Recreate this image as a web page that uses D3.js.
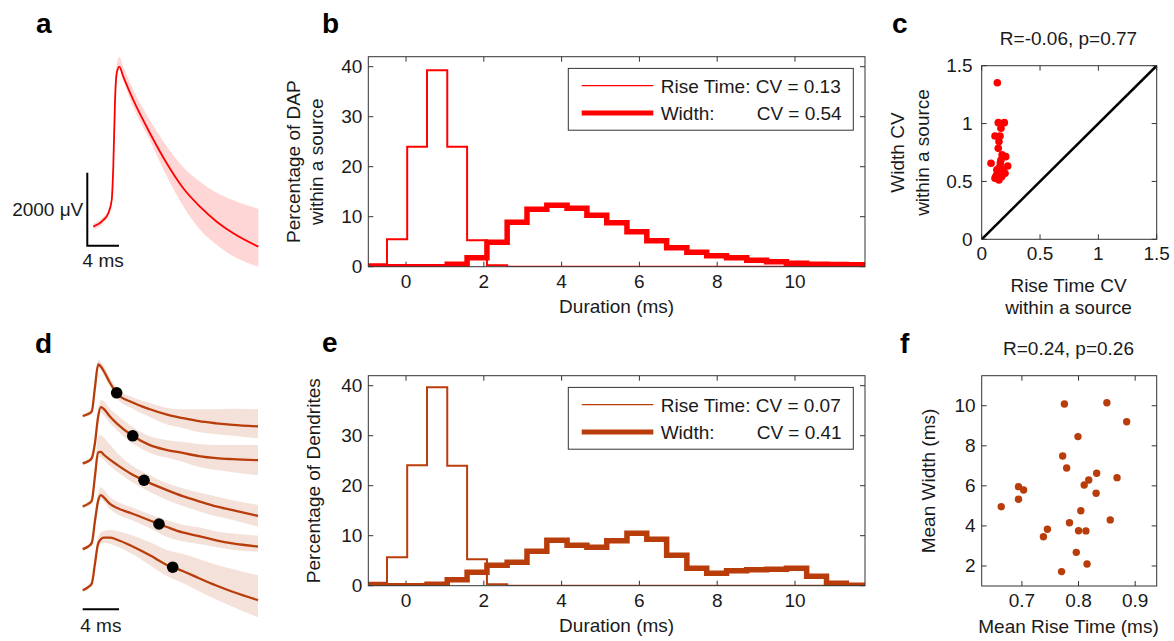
<!DOCTYPE html>
<html><head><meta charset="utf-8">
<script src="https://cdn.jsdelivr.net/npm/d3@7"></script>
<style>
body{margin:0;background:#fff;}
svg{display:block;font-family:"Liberation Sans",Arial,Helvetica,sans-serif;}
</style></head><body>
<svg id="fig" width="1174" height="641"></svg>
<script>
// ---------------- DATA ----------------
// panel a: mean DAP waveform (time ms, voltage uV) with band offsets
const aTime = [0.76, 2.02, 2.65, 3.08, 3.28, 3.5, 3.71, 4.04, 4.54, 5.8, 7.91, 10.02, 12.11, 14.22, 16.33, 18.42, 21.58];
const aMean = [521, 704, 888, 1252, 2165, 3992, 4724, 4905, 4631, 3992, 3080, 2258, 1573, 1069, 658, 340, -27];
const aBandUp = [82, 82, 82, 82, 110, 164, 247, 274, 274, 274, 356, 466, 575, 685, 795, 904, 1041];
const aBandLo = [82, 82, 82, 82, 82, 82, 82, 82, 110, 192, 192, 356, 493, 630, 630, 630, 548];

// histogram bins (ms)
const binEdges = [-1.0, -0.49, 0.03, 0.54, 1.06, 1.57, 2.08, 2.6, 3.11, 3.62, 4.14, 4.65, 5.16, 5.68, 6.19, 6.7, 7.22, 7.73, 8.24, 8.76, 9.27, 9.78, 10.3, 10.81, 11.32, 11.84];
const bRise  = [0.5, 5.5, 24, 39.3, 24, 5.3, 0.3, 0, 0, 0, 0, 0, 0, 0, 0, 0, 0, 0, 0, 0, 0, 0, 0, 0, 0];
const bWidth = [0, 0, 0, 0, 0.5, 1.8, 4.9, 8.9, 11.5, 12.3, 11.7, 10.3, 8.8, 7.0, 5.2, 3.8, 2.9, 2.2, 1.8, 1.3, 1.0, 0.7, 0.5, 0.45, 0.4];
const eRise  = [0.6, 5.7, 24.1, 39.7, 24, 5.3, 0.3, 0, 0, 0, 0, 0, 0, 0, 0, 0, 0, 0, 0, 0, 0, 0, 0, 0, 0];
const eWidth = [0, 0, 0, 0.3, 1.2, 2.7, 4.1, 4.7, 6.9, 9.1, 8.1, 7.7, 9.0, 10.5, 9.3, 6.1, 3.5, 2.5, 3.0, 3.2, 3.3, 3.5, 1.9, 0.5, 0.1];
const histXTicks = [0, 2, 4, 6, 8, 10];
const histYTicks = [0, 10, 20, 30, 40];
const cvB = [0.13, 0.54];
const cvE = [0.07, 0.41];

// panel c: CV within a source
const cRiseCV  = [0.134, 0.142, 0.194, 0.165, 0.114, 0.157, 0.148, 0.142, 0.08, 0.206, 0.165, 0.223, 0.148, 0.185, 0.128, 0.2, 0.114, 0.148, 0.171, 0.137, 0.157, 0.12, 0.16, 0.13, 0.175];
const cWidthCV = [1.353, 1.008, 1.008, 0.959, 0.893, 0.893, 0.844, 0.786, 0.657, 0.714, 0.685, 0.634, 0.614, 0.599, 0.556, 0.57, 0.527, 0.513, 0.541, 0.585, 0.628, 0.54, 0.66, 0.6, 0.73];
const cTicks = [0, 0.5, 1, 1.5];

// panel d: five dendrite waveforms (time ms, % of peak)
const dTime = [0, 0.6, 1.0, 1.35, 1.7, 2.0, 2.3, 3.0, 3.8, 5.5, 7.4, 9.2, 11.0, 12.8, 14.7, 16.5, 19.3];
const dMean = [
  [0, 4, 9, 55, 99, 95, 87, 64, 43, 26, 13, 3, -4, -10, -14, -17, -20],
  [0, 4, 10, 39, 90, 108, 105, 90, 76, 53, 35, 26, 20, 14, 10, 8, 6],
  [0, 5, 11, 58, 104, 105, 100, 90, 80, 61, 45, 32, 20, 10, 0, -7, -18],
  [0, 5, 12, 54, 93, 104, 100, 87, 79, 68, 55, 43, 32, 25, 17, 11, 5],
  [0, 6, 13, 51, 90, 98, 101, 101, 97, 84, 67, 49, 37, 23, 9, -3, -19]
];
const dBandUp = [
  [4, 4, 6, 6, 8, 9, 10, 10, 10, 10, 12, 13, 17, 23, 27, 31, 33],
  [4, 4, 6, 8, 13, 14, 15, 15, 17, 17, 17, 19, 21, 23, 25, 27, 29],
  [4, 4, 8, 19, 31, 32, 33, 29, 23, 17, 15, 13, 15, 17, 19, 19, 21],
  [4, 4, 6, 10, 15, 15, 15, 13, 12, 12, 12, 13, 15, 17, 17, 19, 21],
  [4, 4, 6, 8, 12, 13, 13, 15, 17, 21, 25, 29, 33, 37, 40, 44, 48]
];
const dBandLo = [
  [4, 4, 6, 6, 6, 7, 8, 8, 10, 12, 15, 19, 19, 21, 21, 21, 23],
  [4, 4, 6, 8, 10, 11, 12, 13, 13, 15, 15, 15, 17, 21, 23, 25, 29],
  [4, 4, 6, 8, 10, 10, 10, 12, 13, 15, 17, 19, 19, 19, 19, 19, 21],
  [4, 4, 6, 6, 8, 8, 8, 10, 12, 13, 15, 19, 17, 15, 13, 12, 10],
  [4, 4, 6, 6, 8, 9, 10, 12, 13, 15, 19, 21, 23, 25, 27, 29, 33]
];
const dOffsets = [0, -91, -174, -256, -335];
const dWidthTimes = [3.74, 5.51, 6.75, 8.4, 9.91];

// panel f: mean rise time vs mean width
const fRise  = [0.6635, 0.694, 0.703, 0.694, 0.775, 0.85, 0.885, 0.799, 0.772, 0.779, 0.832, 0.818, 0.81, 0.868, 0.831, 0.804, 0.784, 0.856, 0.745, 0.738, 0.8, 0.813, 0.796, 0.815, 0.77];
const fWidth = [4.96, 5.96, 5.79, 5.33, 10.09, 10.15, 9.2, 8.46, 7.49, 6.89, 6.63, 6.29, 6.04, 6.41, 5.63, 4.76, 4.16, 4.3, 3.83, 3.46, 3.76, 3.75, 2.68, 2.1, 1.72];
const fXTicks = [0.7, 0.8, 0.9];
const fYTicks = [2, 4, 6, 8, 10];

// ---------------- STYLE ----------------
const FS = 19;
const RED = "#ff0000", BROWN = "#b83d0b";
const PINK = "#ffd6d6", PEACH = "#f3e0d8";
const AX = "#333333", TXT = "#1a1a1a";

const svg = d3.select("#fig");
svg.append("rect").attr("width", 1174).attr("height", 641).attr("fill", "#fff");

function txt(g, x, y, s, anchor) {
  return g.append("text").attr("x", x).attr("y", y).attr("text-anchor", anchor || "middle")
    .attr("font-size", FS).attr("fill", TXT).text(s);
}
function vtxt(g, x, y, s) {
  return g.append("text").attr("transform", `translate(${x},${y}) rotate(-90)`)
    .attr("text-anchor", "middle").attr("font-size", FS).attr("fill", TXT).text(s);
}
function letter(x, y, s) {
  svg.append("text").attr("x", x).attr("y", y).attr("font-size", 28).attr("font-weight", "bold")
    .attr("fill", "#000").text(s);
}

let clipId = 0;
function axesBox(g, x, y, xt, yt, fx, fy, ypad) {
  const [x0, x1] = x.range(), [y0, y1] = y.range();
  const tl = 5;
  xt.forEach(v => {
    const p = x(v);
    g.append("line").attr("x1", p).attr("x2", p).attr("y1", y0).attr("y2", y0 - tl).attr("stroke", AX);
    g.append("line").attr("x1", p).attr("x2", p).attr("y1", y1).attr("y2", y1 + tl).attr("stroke", AX);
    txt(g, p, y0 + 21, fx(v));
  });
  yt.forEach(v => {
    const p = y(v);
    g.append("line").attr("y1", p).attr("y2", p).attr("x1", x0).attr("x2", x0 + tl).attr("stroke", AX);
    g.append("line").attr("y1", p).attr("y2", p).attr("x1", x1).attr("x2", x1 - tl).attr("stroke", AX);
    txt(g, x0 - (ypad || 6), p + 6.5, fy(v), "end");
  });
  const id = "clip" + (clipId++);
  svg.append("clipPath").attr("id", id).append("rect")
    .attr("x", x0).attr("y", y1).attr("width", x1 - x0).attr("height", y0 - y1);
  const plot = g.append("g").attr("clip-path", `url(#${id})`);
  g.append("rect").attr("x", x0).attr("y", y1).attr("width", x1 - x0).attr("height", y0 - y1)
    .attr("fill", "none").attr("stroke", AX).attr("stroke-width", 1);
  return plot;
}

// ---------------- PANEL a ----------------
{
  const g = svg.append("g");
  const xA = d3.scaleLinear().domain([0, 4]).range([87.3, 119]);
  const yA = d3.scaleLinear().domain([0, 2000]).range([245.7, 172.7]);
  const idx = d3.range(aTime.length);
  g.append("path").attr("fill", PINK)
    .attr("d", d3.area().curve(d3.curveMonotoneX).x(i => xA(aTime[i]))
      .y0(i => yA(aMean[i] - aBandLo[i])).y1(i => yA(aMean[i] + aBandUp[i]))(idx));
  g.append("path").attr("fill", "none").attr("stroke", RED).attr("stroke-width", 1.8)
    .attr("d", d3.line().curve(d3.curveMonotoneX).x(i => xA(aTime[i])).y(i => yA(aMean[i]))(idx));
  g.append("path").attr("fill", "none").attr("stroke", "#000").attr("stroke-width", 2)
    .attr("d", `M${xA(0)},${yA(2000)}L${xA(0)},${yA(0)}L${xA(4)},${yA(0)}`);
  txt(g, xA(0) - 4, yA(1000) + 7, "2000 \u03bcV", "end");
  txt(g, xA(2), yA(0) + 21, "4 ms");
  letter(36, 33, "a");
}

// ---------------- PANELS b / e ----------------
function histPanel(top, rise, width, cv, color) {
  const g = svg.append("g");
  const x = d3.scaleLinear().domain([-0.97, 11.8]).range([368.3, 865]);
  const y = d3.scaleLinear().domain([0, 42]).range([top + 210, top]);
  const plot = axesBox(g, x, y, histXTicks, histYTicks, d => d, d => d, 6);
  const stair = vals => {
    const pts = vals.map((v, i) => [binEdges[i], v]);
    pts.push([binEdges[vals.length], vals[vals.length - 1]]);
    return d3.line().curve(d3.curveStepAfter).x(d => x(d[0])).y(d => y(d[1]))(pts);
  };
  plot.append("path").attr("d", stair(width)).attr("fill", "none").attr("stroke", color)
    .attr("stroke-width", 5.5).attr("stroke-linejoin", "miter");
  plot.append("path").attr("d", stair(rise)).attr("fill", "none").attr("stroke", color)
    .attr("stroke-width", 2);
  // legend
  const lx0 = 568.3, lx1 = 853.3, ly0 = top + 11.7, ly1 = top + 73.5;
  g.append("rect").attr("x", lx0).attr("y", ly0).attr("width", lx1 - lx0).attr("height", ly1 - ly0)
    .attr("fill", "#fff").attr("stroke", AX).attr("stroke-width", 1);
  const r1 = top + 29, r2 = top + 56.3;
  g.append("line").attr("x1", 581.7).attr("x2", 653.3).attr("y1", r1).attr("y2", r1)
    .attr("stroke", color).attr("stroke-width", 1.2);
  g.append("line").attr("x1", 581.7).attr("x2", 653.3).attr("y1", r2).attr("y2", r2)
    .attr("stroke", color).attr("stroke-width", 5);
  txt(g, 660.7, r1 + 6.8, `Rise Time: CV = ${cv[0].toFixed(2)}`, "start");
  txt(g, 660.7, r2 + 6.8, "Width:", "start");
  txt(g, 841.7, r2 + 6.8, `CV = ${cv[1].toFixed(2)}`, "end");
  txt(g, (368.3 + 865) / 2, top + 256, "Duration (ms)");
  return g;
}
{
  const g = histPanel(56.7, bRise, bWidth, cvB, RED);
  vtxt(g, 300, 161.7, "Percentage of DAP");
  vtxt(g, 323, 161.7, "within a source");
  letter(322, 33, "b");
}
{
  const g = histPanel(375.7, eRise, eWidth, cvE, BROWN);
  vtxt(g, 320, 480.7, "Percentage of Dendrites");
  letter(322, 352, "e");
}

// ---------------- PANEL c ----------------
{
  const g = svg.append("g");
  const x = d3.scaleLinear().domain([0, 1.5]).range([981.7, 1156.7]);
  const y = d3.scaleLinear().domain([0, 1.5]).range([239.3, 65.7]);
  const plot = axesBox(g, x, y, cTicks, cTicks, d => String(d), d => String(d), 9);
  plot.append("line").attr("x1", x(0)).attr("y1", y(0)).attr("x2", x(1.5)).attr("y2", y(1.5))
    .attr("stroke", "#000").attr("stroke-width", 2.6);
  plot.selectAll("circle.c").data(d3.range(cRiseCV.length)).join("circle")
    .attr("cx", i => x(cRiseCV[i])).attr("cy", i => y(cWidthCV[i])).attr("r", 3.8).attr("fill", RED);
  txt(g, 1068.5, 45, "R=-0.06, p=0.77");
  txt(g, 1068.5, 292, "Rise Time CV");
  txt(g, 1068.5, 314, "within a source");
  vtxt(g, 904, 152.5, "Width CV");
  vtxt(g, 929, 152.5, "within a source");
  letter(892, 33, "c");
}

// ---------------- PANEL d ----------------
{
  const g = svg.append("g");
  const xD = d3.scaleLinear().domain([0, 19.3]).range([82.7, 258]);
  const yD = d3.scaleLinear().domain([0, 100]).range([416, 364]);
  const idx = d3.range(dTime.length);
  dMean.forEach((m, k) => {
    const off = dOffsets[k];
    g.append("path").attr("fill", PEACH).attr("opacity", 0.95)
      .attr("d", d3.area().curve(d3.curveMonotoneX).x(i => xD(dTime[i]))
        .y0(i => yD(off + m[i] - dBandLo[k][i])).y1(i => yD(off + m[i] + dBandUp[k][i]))(idx));
  });
  dMean.forEach((m, k) => {
    const off = dOffsets[k];
    g.append("path").attr("fill", "none").attr("stroke", BROWN).attr("stroke-width", 2.3)
      .attr("d", d3.line().curve(d3.curveMonotoneX).x(i => xD(dTime[i])).y(i => yD(off + m[i]))(idx));
    const interp = d3.scaleLinear().domain(dTime).range(m);
    g.append("circle").attr("cx", xD(dWidthTimes[k])).attr("cy", yD(off + interp(dWidthTimes[k])))
      .attr("r", 5.8).attr("fill", "#000");
  });
  g.append("line").attr("x1", xD(0)).attr("x2", xD(4)).attr("y1", 609.3).attr("y2", 609.3)
    .attr("stroke", "#000").attr("stroke-width", 2);
  txt(g, xD(2), 631.5, "4 ms");
  letter(35, 353, "d");
}

// ---------------- PANEL f ----------------
{
  const g = svg.append("g");
  const x = d3.scaleLinear().domain([0.629, 0.938]).range([981.7, 1156.7]);
  const y = d3.scaleLinear().domain([1.0, 11.5]).range([586, 375.7]);
  const plot = axesBox(g, x, y, fXTicks, fYTicks, d => d.toFixed(1), d => String(d), 6);
  plot.selectAll("circle.f").data(d3.range(fRise.length)).join("circle")
    .attr("cx", i => x(fRise[i])).attr("cy", i => y(fWidth[i])).attr("r", 3.7).attr("fill", BROWN);
  txt(g, 1068.5, 355, "R=0.24, p=0.26");
  txt(g, 1068.5, 633, "Mean Rise Time (ms)");
  vtxt(g, 935, 481, "Mean Width (ms)");
  letter(900, 353, "f");
}
</script>
</body></html>
